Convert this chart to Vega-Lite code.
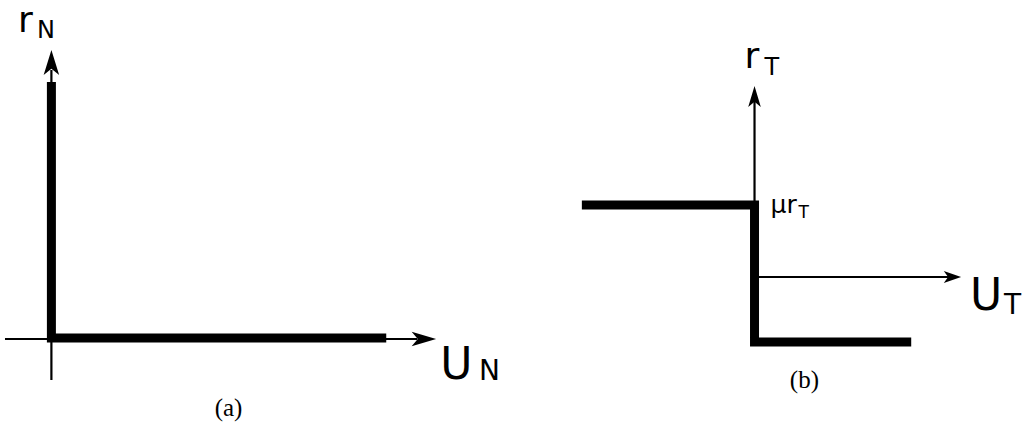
{
  "$schema": "https://vega.github.io/schema/vega-lite/v6.json",
  "width": 1022,
  "height": 425,
  "autosize": {"type": "fit", "contains": "padding"},
  "padding": 0,
  "background": "white",
  "config": {"view": {"stroke": null}},
  "datasets": {
    "thin": [
      {"x": 5, "y": 339, "x2": 418, "y2": 339},
      {"x": 51.5, "y": 380, "x2": 51.5, "y2": 70},
      {"x": 756, "y": 205, "x2": 756, "y2": 100},
      {"x": 756, "y": 277, "x2": 950, "y2": 277}
    ],
    "thick": [
      {"seg": "a", "ord": 1, "x": 51.5, "y": 82},
      {"seg": "a", "ord": 2, "x": 51.5, "y": 338},
      {"seg": "a", "ord": 3, "x": 387, "y": 338},
      {"seg": "b", "ord": 1, "x": 583, "y": 205},
      {"seg": "b", "ord": 2, "x": 756, "y": 205},
      {"seg": "b", "ord": 3, "x": 756, "y": 342},
      {"seg": "b", "ord": 4, "x": 913, "y": 342}
    ],
    "arrows": [
      {"panel": "a", "dir": "up", "x": 51.5, "y": 50},
      {"panel": "a", "dir": "right", "x": 437, "y": 339},
      {"panel": "b", "dir": "up", "x": 756, "y": 86},
      {"panel": "b", "dir": "right", "x": 963, "y": 277}
    ],
    "labels": [
      {"kind": "big", "t": "r", "x": 18, "y": 32},
      {"kind": "sub", "t": "N", "x": 37, "y": 38},
      {"kind": "huge", "t": "U", "x": 441, "y": 379},
      {"kind": "hsub", "t": "N", "x": 480, "y": 380},
      {"kind": "big", "t": "r", "x": 746, "y": 68},
      {"kind": "sub", "t": "T", "x": 766, "y": 75},
      {"kind": "mid", "t": "μr", "x": 772, "y": 213},
      {"kind": "msub", "t": "T", "x": 800, "y": 218},
      {"kind": "huge", "t": "U", "x": 972, "y": 310},
      {"kind": "hsub", "t": "T", "x": 1006, "y": 314},
      {"kind": "cap", "t": "(a)", "x": 229, "y": 416},
      {"kind": "cap", "t": "(b)", "x": 806, "y": 388}
    ]
  },
  "encoding": {
    "x": {"field": "x", "type": "quantitative", "scale": {"domain": [0, 1022]}, "axis": null},
    "y": {"field": "y", "type": "quantitative", "scale": {"domain": [0, 425], "reverse": true}, "axis": null}
  },
  "layer": [
    {
      "data": {"name": "thin"},
      "mark": {"type": "rule", "color": "black", "strokeWidth": 2.2},
      "encoding": {"x2": {"field": "x2"}, "y2": {"field": "y2"}}
    },
    {
      "data": {"name": "thick"},
      "mark": {"type": "line", "color": "black", "strokeWidth": 9, "strokeJoin": "miter", "strokeCap": "butt"},
      "encoding": {"detail": {"field": "seg"}, "order": {"field": "ord", "type": "quantitative"}}
    },
    {
      "data": {"name": "arrows"},
      "transform": [{"filter": "datum.panel == 'a' && datum.dir == 'up'"}],
      "mark": {"type": "point", "filled": true, "color": "black", "opacity": 1, "size": 625, "shape": "M0,0L0.62,2L0,1.5L-0.62,2Z"}
    },
    {
      "data": {"name": "arrows"},
      "transform": [{"filter": "datum.panel == 'a' && datum.dir == 'right'"}],
      "mark": {"type": "point", "filled": true, "color": "black", "opacity": 1, "size": 600, "shape": "M0,0L-2,0.6L-1.5,0L-2,-0.6Z"}
    },
    {
      "data": {"name": "arrows"},
      "transform": [{"filter": "datum.panel == 'b' && datum.dir == 'up'"}],
      "mark": {"type": "point", "filled": true, "color": "black", "opacity": 1, "size": 441, "shape": "M0,0L0.6,2L0,1.5L-0.6,2Z"}
    },
    {
      "data": {"name": "arrows"},
      "transform": [{"filter": "datum.panel == 'b' && datum.dir == 'right'"}],
      "mark": {"type": "point", "filled": true, "color": "black", "opacity": 1, "size": 300, "shape": "M0,0L-2,0.7L-1.5,0L-2,-0.7Z"}
    },
    {
      "data": {"name": "labels"},
      "transform": [{"filter": "datum.kind == 'big'"}],
      "mark": {"type": "text", "font": "DejaVu Sans", "fontSize": 36, "align": "left", "baseline": "alphabetic", "color": "black"},
      "encoding": {"text": {"field": "t"}}
    },
    {
      "data": {"name": "labels"},
      "transform": [{"filter": "datum.kind == 'sub'"}],
      "mark": {"type": "text", "font": "DejaVu Sans", "fontSize": 24, "align": "left", "baseline": "alphabetic", "color": "black"},
      "encoding": {"text": {"field": "t"}}
    },
    {
      "data": {"name": "labels"},
      "transform": [{"filter": "datum.kind == 'huge'"}],
      "mark": {"type": "text", "font": "DejaVu Sans", "fontSize": 44, "align": "left", "baseline": "alphabetic", "color": "black"},
      "encoding": {"text": {"field": "t"}}
    },
    {
      "data": {"name": "labels"},
      "transform": [{"filter": "datum.kind == 'hsub'"}],
      "mark": {"type": "text", "font": "DejaVu Sans", "fontSize": 28, "align": "left", "baseline": "alphabetic", "color": "black"},
      "encoding": {"text": {"field": "t"}}
    },
    {
      "data": {"name": "labels"},
      "transform": [{"filter": "datum.kind == 'mid'"}],
      "mark": {"type": "text", "font": "DejaVu Sans", "fontSize": 25, "align": "left", "baseline": "alphabetic", "color": "black"},
      "encoding": {"text": {"field": "t"}}
    },
    {
      "data": {"name": "labels"},
      "transform": [{"filter": "datum.kind == 'msub'"}],
      "mark": {"type": "text", "font": "DejaVu Sans", "fontSize": 17, "align": "left", "baseline": "alphabetic", "color": "black"},
      "encoding": {"text": {"field": "t"}}
    },
    {
      "data": {"name": "labels"},
      "transform": [{"filter": "datum.kind == 'cap'"}],
      "mark": {"type": "text", "font": "Liberation Serif", "fontSize": 25, "align": "center", "baseline": "alphabetic", "color": "black"},
      "encoding": {"text": {"field": "t"}}
    }
  ]
}
